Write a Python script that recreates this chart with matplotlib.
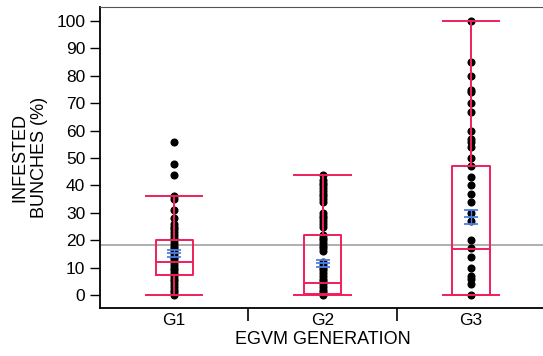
import numpy as np
import matplotlib.pyplot as plt

plt.rcParams['font.family'] = ['Liberation Sans', 'DejaVu Sans']

# Data
groups = ["G1", "G2", "G3"]
g1 = [56, 48, 44, 36, 35, 31, 28, 26, 25, 24, 23, 22, 21, 20, 19, 18, 17, 16,
      15, 14, 13, 12, 11, 10, 9, 8, 7, 6, 5, 4, 3, 2, 1, 0]
g2 = [44, 42, 41, 40, 39, 38, 37, 36, 35, 34, 30, 29, 28, 27, 26, 25, 22, 21,
      20, 19, 18, 17, 16, 12, 11, 10, 9, 8, 7, 6, 5, 4, 3, 2, 1, 0]
g3 = [100, 85, 80, 75, 74, 70, 67, 60, 57, 56, 54, 50, 47, 43, 40, 37, 34, 30,
      27, 20, 17, 14, 10, 7, 6, 4, 0]

# box statistics
q1 = [7.5, 0.3, 0]
med = [12.2, 4.3, 16.7]
q3 = [20, 22, 47]
wlo = [0, 0, 0]
whi = [36, 44, 100]
means = [15.2, 11.6, 28.4]
sem = [1.4, 1.2, 2.6]
overall = 18.3

red = "#ee1f5a"
blue = "#4c7fe6"

fig = plt.figure(figsize=(5.43, 3.56), dpi=100)
ax = fig.add_axes([0.184, 0.135, 0.82, 0.845])

x = np.arange(len(groups))

ax.axhline(overall, color="#a8a8a8", lw=1.3, zorder=1)

for i, vals in enumerate([g1, g2, g3]):
    ax.plot([x[i]] * len(vals), vals, "o", color="black", ms=4.8, zorder=2)

stats = []
for i in range(len(groups)):
    stats.append(dict(q1=q1[i], med=med[i], q3=q3[i], whislo=wlo[i], whishi=whi[i], fliers=[]))
ax.bxp(stats, positions=x, widths=0.25, showfliers=False,
       boxprops=dict(color=red, lw=1.4), medianprops=dict(color=red, lw=1.4),
       whiskerprops=dict(color=red, lw=1.4), capprops=dict(color=red, lw=1.4),
       capwidths=0.38, zorder=3)

ax.errorbar(x, means, yerr=sem, fmt="_", color=blue, ms=10, mew=1.3,
            elinewidth=1.0, capsize=5, capthick=1.3, zorder=4)

ax.set_xlim(-0.5, 2.5)
ax.set_ylim(-4.7, 105.1)
ax.set_yticks(np.arange(0, 101, 10))
ax.set_xticks([0.5, 1.5])
ax.set_xticklabels([])
ax.set_xticks(x, minor=True)
ax.set_xticklabels(groups, minor=True)
ax.tick_params(axis="x", which="major", direction="out", length=9, width=1.2)
ax.tick_params(axis="x", which="minor", length=0, pad=4, labelsize=12.5)
ax.tick_params(axis="y", direction="out", length=7, width=1.0, labelsize=12.5)

ax.spines["right"].set_visible(False)
ax.spines["top"].set_color("#555555")
ax.spines["left"].set_linewidth(1.3)
ax.spines["bottom"].set_linewidth(1.3)

ax.set_xlabel("EGVM GENERATION", fontsize=13, labelpad=2)
ax.set_ylabel("INFESTED\nBUNCHES (%)", fontsize=13, labelpad=6)

fig.savefig("out.png", dpi=100)
